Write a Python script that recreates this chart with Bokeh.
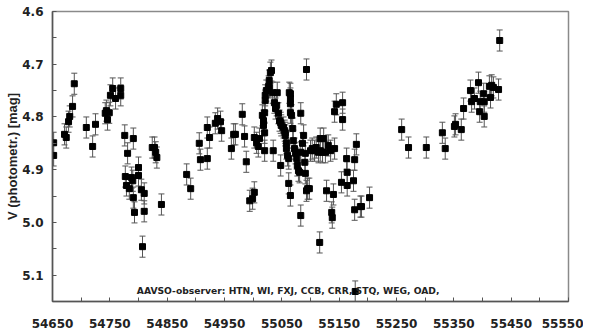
import math
from bokeh.plotting import figure
from bokeh.models import (ColumnDataSource, Range1d, FixedTicker, Whisker, TeeHead,
                          Label, Title, CustomJSTickFormatter)
from bokeh.embed import file_html
from bokeh.resources import INLINE

# ---- data (JD - 2400000, V magnitude, error) ----
jd = [54652, 54652, 54671, 54674, 54678, 54680, 54685, 54688, 54709, 54720, 54725,
      54742, 54744, 54746, 54749, 54751, 54755, 54760, 54769, 54769, 54776, 54781,
      54791, 54777, 54779, 54784, 54788, 54790, 54791, 54793, 54800, 54800, 54805,
      54807, 54810, 54810, 54824, 54828, 54830, 54832, 54840, 54884, 54891, 54906,
      54908, 54920, 54920, 54924, 54934, 54938, 54943, 54945, 54962, 54966, 54969,
      54981, 54985, 54988, 54994, 54999, 55002, 55002, 55006, 55009, 55011,
      55016, 55018, 55018, 55020, 55020, 55020, 55021, 55021, 55023, 55027, 55028,
      55028, 55030, 55032, 55034, 55035, 55037, 55039, 55041, 55042, 55044, 55046,
      55048, 55048, 55049, 55053, 55055, 55056, 55056, 55058, 55058, 55060, 55062,
      55062, 55063, 55065, 55065, 55065, 55065, 55065, 55067, 55069, 55070, 55072,
      55074, 55076, 55077, 55079, 55081, 55083, 55083, 55083, 55086, 55088, 55090,
      55091, 55091, 55093, 55093, 55095, 55098, 55100, 55103, 55107, 55110, 55114,
      55116, 55117, 55117, 55121, 55123, 55126, 55128, 55131, 55135, 55137, 55138,
      55140, 55142, 55142, 55145, 55154, 55156, 55156, 55163, 55164, 55164, 55175,
      55177, 55177, 55178, 55180, 55187, 55189, 55203,
      55259, 55271, 55302, 55330, 55335, 55351, 55353, 55363, 55367, 55379, 55381,
      55386, 55393, 55395, 55396, 55402, 55403, 55403, 55412, 55414, 55416, 55419,
      55428, 55430]
vmag = [4.849, 4.873, 4.833, 4.839, 4.809, 4.799, 4.780, 4.737, 4.820, 4.856, 4.814,
        4.793, 4.788, 4.805, 4.792, 4.759, 4.746, 4.765, 4.746, 4.759, 4.835, 4.869,
        4.841, 4.913, 4.930, 4.936, 4.915, 4.921, 4.953, 4.981, 4.896, 4.911, 4.938,
        5.046, 4.945, 4.979, 4.858, 4.858, 4.867, 4.877, 4.966, 4.909, 4.936, 4.850,
        4.881, 4.879, 4.820, 4.839, 4.812, 4.803, 4.809, 4.826, 4.860, 4.833, 4.833,
        4.795, 4.837, 4.885, 4.959, 4.955, 4.943, 4.839, 4.849, 4.856, 4.841,
        4.797, 4.807, 4.816, 4.830, 4.864, 4.792, 4.769, 4.759, 4.750, 4.742, 4.744,
        4.731, 4.716, 4.712, 4.754, 4.864, 4.773, 4.784, 4.778, 4.754, 4.793, 4.807,
        4.811, 4.892, 4.816, 4.820, 4.826, 4.830, 4.835, 4.849, 4.860, 4.873, 4.879,
        4.926, 4.754, 4.756, 4.792, 4.765, 4.775, 4.949, 4.797, 4.822, 4.845, 4.860,
        4.869, 4.879, 4.892, 4.902, 4.905, 4.987, 4.793, 4.867, 4.850, 4.835, 4.886,
        4.907, 4.869, 4.710, 4.940, 4.936, 4.936, 4.864, 4.860, 4.864, 4.858, 4.867,
        5.038, 4.841, 4.864, 4.867, 4.841, 4.867, 4.940, 4.854, 4.864, 4.981, 4.991,
        4.947, 4.860, 4.790, 4.776, 4.924, 4.773, 4.805, 4.879, 4.905, 4.930, 4.921,
        4.881, 4.976, 5.131, 4.852, 4.970, 4.970, 4.953,
        4.824, 4.858, 4.858, 4.830, 4.860, 4.818, 4.814, 4.824, 4.784, 4.750, 4.771,
        4.765, 4.735, 4.790, 4.771, 4.756, 4.771, 4.799, 4.742, 4.763, 4.740, 4.744,
        4.748, 4.655]
err = [0.02] * len(jd)

x_ticks = [54650, 54750, 54850, 54950, 55050, 55150, 55250, 55350, 55450, 55550]
x_minor = [54700, 54800, 54900, 55000, 55100, 55200, 55300, 55400, 55500]
y_ticks = [4.6, 4.7, 4.8, 4.9, 5.0, 5.1]
y_minor = [4.65, 4.75, 4.85, 4.95, 5.05]
y_axis_title = "V (photometr.) [mag]"
note = "AAVSO-observer: HTN, WI, FXJ, CCB, CRR, STQ, WEG, OAD,"

upper = [v + e for v, e in zip(vmag, err)]
lower = [v - e for v, e in zip(vmag, err)]
src = ColumnDataSource(dict(jd=jd, vmag=vmag, upper=upper, lower=lower))

p = figure(width=583, height=333, output_backend="svg", toolbar_location=None,
           x_range=Range1d(54650, 55550), y_range=Range1d(5.15, 4.6),
           min_border_left=52, min_border_right=15, min_border_top=11, min_border_bottom=32)
p.background_fill_color = "white"
p.border_fill_color = "white"
p.outline_line_color = "#8a8a8a"
p.outline_line_width = 1.5
p.grid.visible = False

# axes
for ax in (p.xaxis[0], p.yaxis[0]):
    ax.axis_line_color = "#555555"
    ax.axis_line_width = 1.5
    ax.major_tick_in = 4
    ax.major_tick_out = 0
    ax.minor_tick_in = 4
    ax.minor_tick_out = 0
    ax.major_tick_line_color = "#555555"
    ax.minor_tick_line_color = "#555555"
    ax.major_label_text_font = "DejaVu Sans"
    ax.major_label_text_font_style = "bold"
    ax.major_label_text_font_size = "12px"
    ax.major_label_text_color = "#222222"

p.xaxis.ticker = FixedTicker(ticks=x_ticks, minor_ticks=x_minor)
p.xaxis.major_label_standoff = 17
p.yaxis.ticker = FixedTicker(ticks=y_ticks, minor_ticks=y_minor)
p.yaxis.formatter = CustomJSTickFormatter(code="return tick.toFixed(1);")
p.yaxis.major_label_standoff = 9

# y axis title, shifted upward like the reference
ytitle = Title(text=y_axis_title, align="center", offset=29, standoff=0,
               text_font="Liberation Sans", text_font_style="bold",
               text_font_size="13px", text_color="#222222")
p.add_layout(ytitle, "left")

# error bars
wh = Whisker(source=src, base="jd", upper="upper", lower="lower", dimension="height",
             line_color="#555555", line_width=1,
             upper_head=TeeHead(size=6, line_color="#555555", line_width=1),
             lower_head=TeeHead(size=6, line_color="#555555", line_width=1))
p.add_layout(wh)

p.scatter("jd", "vmag", source=src, marker="square", size=6, color="black")

p.add_layout(Label(x=54797, y=5.13, text=note, text_align="left", text_baseline="middle",
                   text_font="DejaVu Sans", text_font_style="bold",
                   text_font_size="9.2px", text_color="#222222"))

open("out.html", "w").write(file_html(p, INLINE))
